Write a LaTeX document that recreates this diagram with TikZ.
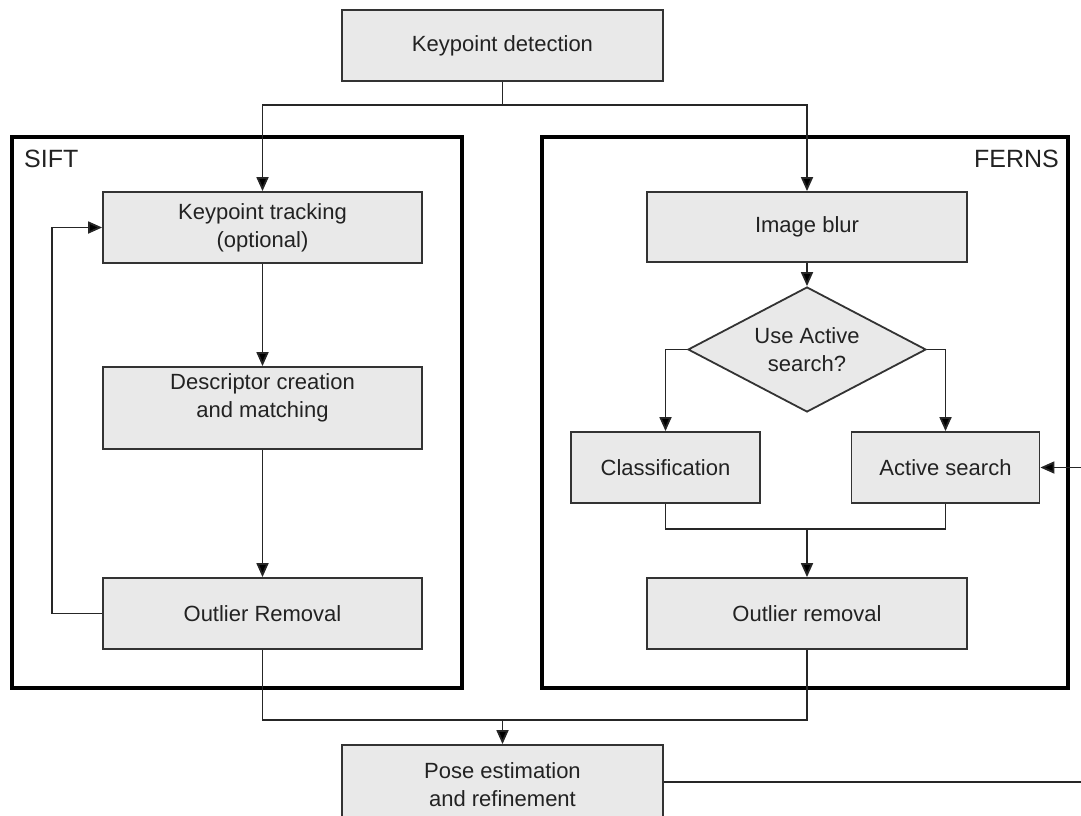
\documentclass[tikz,border=0pt]{standalone}
\usepackage{fontspec}
\setmainfont{Liberation Sans}
\usetikzlibrary{arrows.meta,shapes.geometric}
\definecolor{boxfill}{HTML}{E9E9E9}
\definecolor{boxline}{HTML}{333333}
\definecolor{txt}{HTML}{222222}
\definecolor{connline}{HTML}{262626}
\tikzset{
  procbox/.style={draw=boxline, line width=1.8pt, fill=boxfill, inner sep=0pt,
    text=txt, align=center, font=\fontsize{22}{28}\selectfont},
  decbox/.style={diamond, draw=boxline, line width=1.8pt, fill=boxfill, inner sep=0pt,
    aspect=1.9, minimum width=238pt, minimum height=125pt,
    text=txt, align=center, font=\fontsize{22}{28}\selectfont},
  frame/.style={draw=black, line width=3.2pt},
  framelabel/.style={text=txt, font=\fontsize{25}{30}\selectfont, inner sep=0pt},
  conn/.style={draw=connline, line width=1.8pt},
  arr/.style={conn, -{Triangle[length=14pt,width=12pt,fill=black]}}
}
\begin{document}
\begin{tikzpicture}[x=1pt,y=-1pt]
\useasboundingbox (0,0) rectangle (1081,816);
% frames
\draw[frame] (12,137) rectangle (462,688);
\draw[frame] (542,137) rectangle (1068,688);
\node[framelabel, anchor=west] (siftlab) at (24,159) {SIFT};
\node[framelabel, anchor=east] (fernslab) at (1059,159) {FERNS};
% nodes
\node[procbox, minimum width=321pt, minimum height=71pt] (kd) at (502.5,45.5) {Keypoint detection};
\node[procbox, minimum width=319pt, minimum height=71pt] (kt) at (262.5,227.5) {Keypoint tracking\\(optional)};
\node[procbox, minimum width=319pt, minimum height=82pt,
      label={[text=txt, align=center, font=\fontsize{22}{28}\selectfont, yshift=10pt]center:Descriptor creation\\and matching}] (dc) at (262.5,408) {};
\node[procbox, minimum width=319pt, minimum height=71pt] (orS) at (262.5,613.5) {Outlier Removal};
\node[procbox, minimum width=320pt, minimum height=70pt] (ib) at (807,227) {Image blur};
\node[decbox] (dia) at (807,349.5) {Use Active\\search?};
\node[procbox, minimum width=189pt, minimum height=71pt] (cl) at (665.5,467.5) {Classification};
\node[procbox, minimum width=188pt, minimum height=71pt] (as) at (945.5,467.5) {Active search};
\node[procbox, minimum width=320pt, minimum height=71pt] (orF) at (807,613.5) {Outlier removal};
\node[procbox, minimum width=321pt, minimum height=74pt,
      label={[text=txt, align=center, font=\fontsize{22}{28}\selectfont, yshift=-3pt]center:Pose estimation\\and refinement}] (pe) at (502.5,782) {};
% helper coordinates
\coordinate (j1) at (502.5,105);
\coordinate (j2) at (807,529);
\coordinate (j3) at (502.5,720);
\coordinate (loopx) at (52,0);
\coordinate (redge) at (1083,0);
% connectors
\draw[conn] (kd.south) -- (j1);
\draw[arr] (j1) -| (kt.north);
\draw[arr] (j1) -| (ib.north);
\draw[arr] (kt.south) -- (dc.north);
\draw[arr] (dc.south) -- (orS.north);
\draw[arr] (orS.west) -- (orS.west -| loopx) -- (kt.west -| loopx) -- (kt.west);
\draw[arr] (ib.south) -- (dia.north);
\draw[arr] (dia.west) -| (cl.north);
\draw[arr] (dia.east) -| (as.north);
\draw[conn] (cl.south) |- (j2) -| (as.south);
\draw[arr] (j2) -- (orF.north);
\draw[conn] (orS.south) |- (j3) -| (orF.south);
\draw[arr] (j3) -- (pe.north);
\draw[conn] (pe.east) -- (pe.east -| redge);
\draw[arr] (as.east -| redge) -- (as.east);
\end{tikzpicture}
\end{document}
